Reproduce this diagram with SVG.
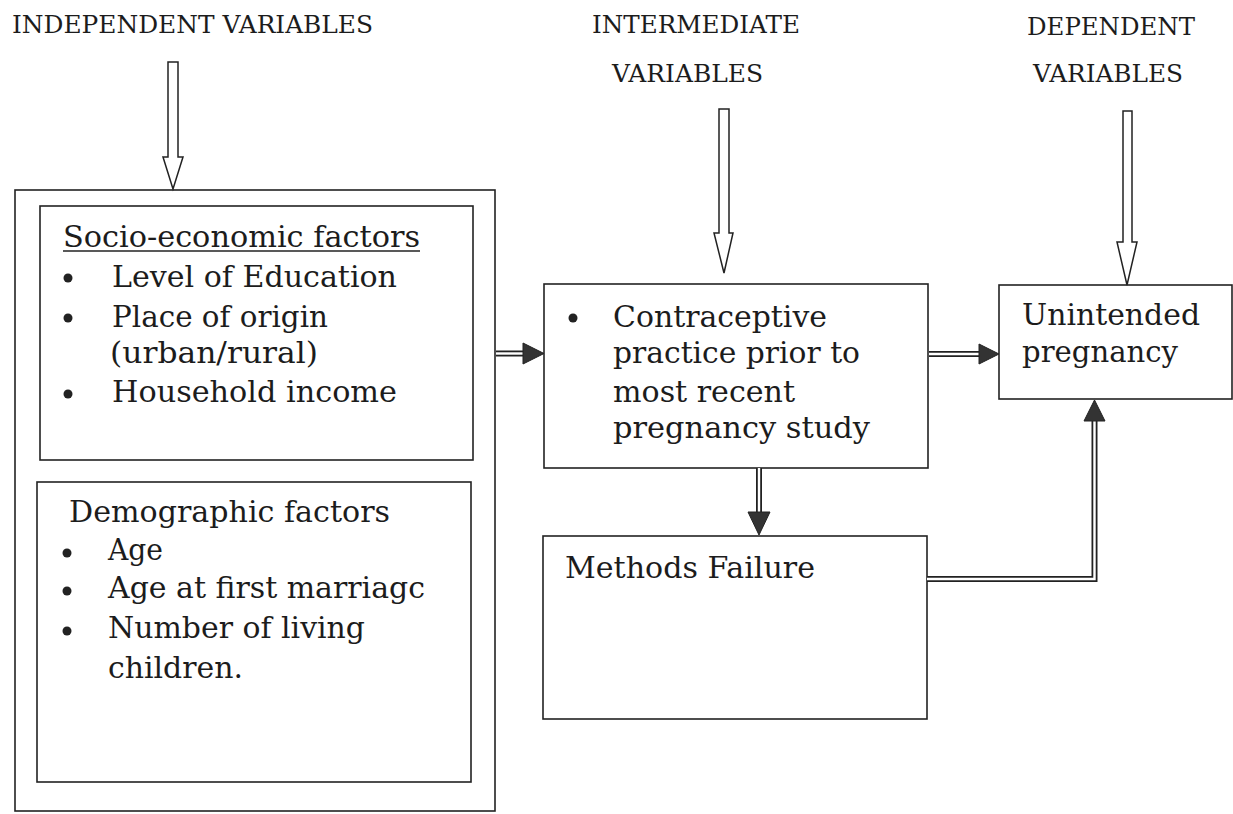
<svg xmlns="http://www.w3.org/2000/svg" width="1233" height="814" viewBox="0 0 1233 814">
<style>
.t{font-family:"DejaVu Serif","Liberation Serif",serif;font-size:29px;fill:#1c1c1c}
.h{font-family:"DejaVu Serif","Liberation Serif",serif;font-size:25px;fill:#1c1c1c}
.box{fill:none;stroke:#222;stroke-width:1.6}
.hollow{fill:#fff;stroke:#222;stroke-width:1.5;stroke-linejoin:miter}
.dbl-o{fill:none;stroke:#222;stroke-width:6}
.dbl-i{fill:none;stroke:#fff;stroke-width:2.4}
.head{fill:#333;stroke:#222;stroke-width:1}
.b{fill:#222}
</style>
<rect width="1233" height="814" fill="#fff"/>
<g id="titles">
<text class="h" x="12" y="33" textLength="361" lengthAdjust="spacingAndGlyphs">INDEPENDENT VARIABLES</text>
<text class="h" x="592" y="33" textLength="208" lengthAdjust="spacingAndGlyphs">INTERMEDIATE</text>
<text class="h" x="612" y="82" textLength="151" lengthAdjust="spacingAndGlyphs">VARIABLES</text>
<text class="h" x="1027" y="35" textLength="168" lengthAdjust="spacingAndGlyphs">DEPENDENT</text>
<text class="h" x="1033" y="82" textLength="150" lengthAdjust="spacingAndGlyphs">VARIABLES</text>
</g>
<g id="independent">
<rect class="box" x="15" y="190" width="480" height="621"/>
</g>
<g id="socio-economic">
<rect class="box" x="40" y="206" width="433" height="254"/>
<text class="t" x="63" y="247" textLength="357" lengthAdjust="spacingAndGlyphs">Socio-economic factors</text>
<line x1="63" y1="251" x2="420" y2="251" stroke="#222" stroke-width="1.5"/>
<circle class="b" cx="68" cy="278" r="4.5"/>
<text class="t" x="112" y="287" textLength="285" lengthAdjust="spacingAndGlyphs">Level of Education</text>
<circle class="b" cx="68" cy="318" r="4.5"/>
<text class="t" x="112" y="327" textLength="216" lengthAdjust="spacingAndGlyphs">Place of origin</text>
<text class="t" x="110" y="363" textLength="208" lengthAdjust="spacingAndGlyphs">(urban/rural)</text>
<circle class="b" cx="68" cy="394" r="4.5"/>
<text class="t" x="112" y="402" textLength="285" lengthAdjust="spacingAndGlyphs">Household income</text>
</g>
<g id="demographic">
<rect class="box" x="37" y="482" width="434" height="300"/>
<text class="t" x="69" y="522" textLength="321" lengthAdjust="spacingAndGlyphs">Demographic factors</text>
<circle class="b" cx="67" cy="553" r="4.5"/>
<text class="t" x="108" y="560" textLength="55" lengthAdjust="spacingAndGlyphs">Age</text>
<circle class="b" cx="67" cy="591" r="4.5"/>
<text class="t" x="108" y="598" textLength="317" lengthAdjust="spacingAndGlyphs">Age at first marriagc</text>
<circle class="b" cx="67" cy="631" r="4.5"/>
<text class="t" x="108" y="638" textLength="257" lengthAdjust="spacingAndGlyphs">Number of living</text>
<text class="t" x="108" y="678" textLength="135" lengthAdjust="spacingAndGlyphs">children.</text>
</g>
<g id="contraceptive">
<rect class="box" x="544" y="284" width="384" height="184"/>
<circle class="b" cx="573" cy="318" r="4.5"/>
<text class="t" x="613" y="327" textLength="214" lengthAdjust="spacingAndGlyphs">Contraceptive</text>
<text class="t" x="613" y="363" textLength="247" lengthAdjust="spacingAndGlyphs">practice prior to</text>
<text class="t" x="613" y="402" textLength="182" lengthAdjust="spacingAndGlyphs">most recent</text>
<text class="t" x="613" y="438" textLength="257" lengthAdjust="spacingAndGlyphs">pregnancy study</text>
</g>
<g id="methods-failure">
<rect class="box" x="543" y="536" width="384" height="183"/>
<text class="t" x="565" y="578" textLength="250" lengthAdjust="spacingAndGlyphs">Methods Failure</text>
</g>
<g id="unintended">
<rect class="box" x="999" y="285" width="233" height="114"/>
<text class="t" x="1022" y="325" textLength="178" lengthAdjust="spacingAndGlyphs">Unintended</text>
<text class="t" x="1022" y="362" textLength="156" lengthAdjust="spacingAndGlyphs">pregnancy</text>
</g>
<g id="connectors">
<polygon class="hollow" points="168,62 178,62 178,157 183,157 173,189 163,157 168,157"/>
<polygon class="hollow" points="719,109 729,109 729,233 733,233 724,273 714,233 719,233"/>
<polygon class="hollow" points="1123,111 1132,111 1132,242 1137,242 1127,285 1117,242 1123,242"/>
<path class="dbl-o" d="M496,353.5 H525"/>
<path class="dbl-i" d="M496,353.5 H525"/>
<polygon class="head" points="523,343 544,353.5 523,364"/>
<path class="dbl-o" d="M929,354 H980"/>
<path class="dbl-i" d="M929,354 H980"/>
<polygon class="head" points="979,344 999,354 979,364"/>
<path class="dbl-o" d="M759,468 V514"/>
<path class="dbl-i" d="M759,468 V514"/>
<polygon class="head" points="748,512 770,512 759,535"/>
<path class="dbl-o" d="M927,579 H1094.5 V419"/>
<path class="dbl-i" d="M927,579 H1094.5 V419"/>
<polygon class="head" points="1084,421 1105,421 1094.5,400"/>
</g>
</svg>
